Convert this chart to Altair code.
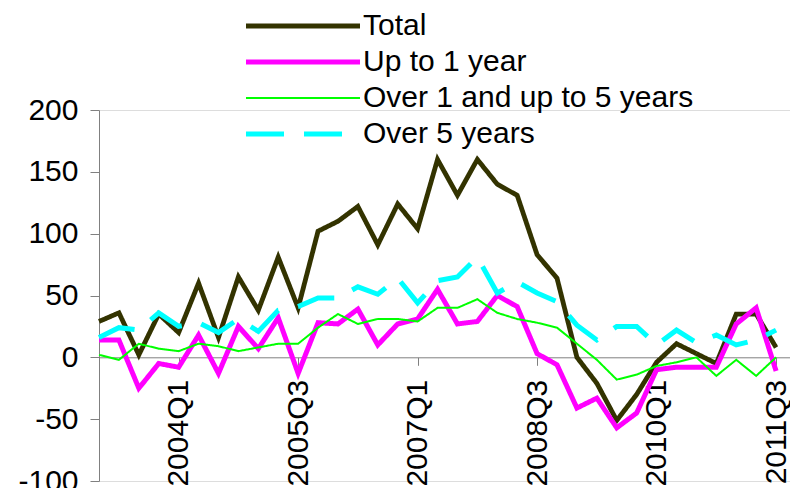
import altair as alt
import pandas as pd

FONT = "Liberation Sans"

quarters = ["2003Q1", "2003Q2", "2003Q3", "2003Q4",
            "2004Q1", "2004Q2", "2004Q3", "2004Q4",
            "2005Q1", "2005Q2", "2005Q3", "2005Q4",
            "2006Q1", "2006Q2", "2006Q3", "2006Q4",
            "2007Q1", "2007Q2", "2007Q3", "2007Q4",
            "2008Q1", "2008Q2", "2008Q3", "2008Q4",
            "2009Q1", "2009Q2", "2009Q3", "2009Q4",
            "2010Q1", "2010Q2", "2010Q3", "2010Q4",
            "2011Q1", "2011Q2", "2011Q3"]

series_names = ["Total", "Up to 1 year", "Over 1 and up to 5 years", "Over 5 years"]

total = [29, 36, 2, 35, 20, 60, 16, 65, 38, 81, 40, 102, 110, 122, 91, 124, 104,
         160, 131, 160, 140, 131, 83, 64, 0, -21, -51, -30, -4, 11, 3, -5, 35, 35, 8]
up_to_1 = [14, 14, -25, -5, -8, 18, -13, 25, 7, 32, -13, 28, 27, 39, 10, 27, 31,
           55, 27, 29, 50, 41, 3, -6, -41, -33, -57, -45, -10, -8, -8, -8, 27, 40, -11]
over_1_to_5 = [2, -2, 11, 7, 5, 11, 9, 5, 8, 11, 11, 24, 35, 27, 31, 31, 29,
               40, 40, 47, 36, 31, 28, 24, 11, -2, -18, -14, -7, -4, 0, -15, -2, -15, 0]
over_5 = [16, 24, 22, 36, 25, 28, 20, 31, 21, 38, 41, 48, 48, 57, 51, 64, 44,
          62, 65, 81, 52, 61, 52, 45, 26, 14, 25, 25, 10, 22, 12, 18, 10, 14, 22]

label_ticks = ["2004Q1", "2005Q3", "2007Q1", "2008Q3", "2010Q1", "2011Q3"]
y_ticks = [-100, -50, 0, 50, 100, 150, 200]

colors = ["#333300", "#FF00FF", "#00FF00", "#00FFFF"]
widths = [4.8, 5, 2, 5]
dashes = [[1, 0], [1, 0], [1, 0], [38, 20]]

rows = []
for name, vals in zip(series_names, [total, up_to_1, over_1_to_5, over_5]):
    for i, v in enumerate(vals):
        rows.append({"idx": i, "quarter": quarters[i], "series": name, "value": v})
df = pd.DataFrame(rows)

label_expr = "[" + ",".join("'%s'" % q for q in quarters) + "][datum.value]"
tick_idx = [quarters.index(q) for q in label_ticks]

legend = alt.Legend(
    title=None, orient="none", legendX=144, legendY=-100, direction="vertical",
    symbolType="stroke", symbolSize=13000, clipHeight=32, rowPadding=4,
    labelFont=FONT, labelFontSize=30, labelColor="black", labelOffset=0,
    padding=0, symbolOffset=0, labelLimit=600,
)

chart = alt.Chart(df).mark_line().encode(
    x=alt.X("idx:Q",
            scale=alt.Scale(domain=[0, 34.7], nice=False, zero=False),
            axis=alt.Axis(values=tick_idx, labelExpr=label_expr, labelAngle=270,
                          labelAlign="right", labelBaseline="middle",
                          labelFont=FONT, labelFontSize=30, labelColor="black",
                          labelPadding=14, tickSize=8, offset=-123.7, title=None,
                          grid=False, domainColor="#808080", tickColor="#808080",
                          labelOverlap=False, labelFlush=False, labelBound=False)),
    y=alt.Y("value:Q",
            scale=alt.Scale(domain=[-100, 200], nice=False),
            axis=alt.Axis(values=y_ticks, labelExpr="'' + datum.value",
                          title=None, grid=False, tickSize=9,
                          labelPadding=12, labelFont=FONT, labelFontSize=30,
                          labelColor="black", domainColor="#808080",
                          tickColor="#808080", labelOverlap=False)),
    color=alt.Color("series:N", scale=alt.Scale(domain=series_names, range=colors),
                    legend=legend),
    strokeDash=alt.StrokeDash("series:N",
                              scale=alt.Scale(domain=series_names, range=dashes),
                              legend=legend),
    strokeWidth=alt.StrokeWidth("series:N",
                                scale=alt.Scale(type="ordinal", domain=series_names,
                                                range=widths),
                                legend=legend),
).properties(
    width=691, height=371,
    autosize=alt.AutoSizeParams(type="none"),
    padding={"left": 91, "top": 102, "right": 0, "bottom": 8},
).configure_view(stroke=None).configure(background="white")

chart.save("out.html", embed_options={"renderer": "svg", "actions": False})
